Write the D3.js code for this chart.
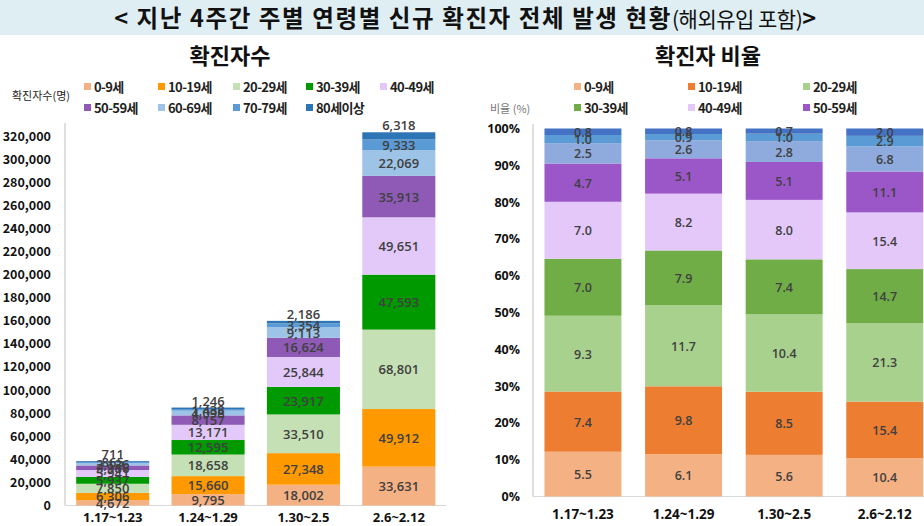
<!DOCTYPE html>
<html><head><meta charset="utf-8">
<script src="https://cdn.jsdelivr.net/npm/d3@7"></script>
<style>
body{margin:0;background:#fff;}
svg{display:block;font-family:"Noto Sans CJK KR","Noto Sans",sans-serif;}
</style></head>
<body>
<svg id="chart" width="924" height="526"></svg>
<script>
// ---- data ----
const weeks = ["1.17~1.23", "1.24~1.29", "1.30~2.5", "2.6~2.12"];
const ageGroups = ["0-9세", "10-19세", "20-29세", "30-39세", "40-49세", "50-59세", "60-69세", "70-79세", "80세이상"];
// 확진자수 (명) per age group, one value per week
const cnt0  = [4672, 9795, 18002, 33631];
const cnt10 = [6306, 15660, 27348, 49912];
const cnt20 = [7850, 18658, 33510, 68801];
const cnt30 = [5937, 12595, 23917, 47593];
const cnt40 = [5941, 13171, 25844, 49651];
const cnt50 = [3986, 8157, 16624, 35913];
const cnt60 = [2126, 4098, 9113, 22069];
const cnt70 = [865, 1438, 3354, 9333];
const cnt80 = [711, 1246, 2186, 6318];
// 비율 (%) per age group
const pct0  = [5.5, 6.1, 5.6, 10.4];
const pct10 = [7.4, 9.8, 8.5, 15.4];
const pct20 = [9.3, 11.7, 10.4, 21.3];
const pct30 = [7.0, 7.9, 7.4, 14.7];
const pct40 = [7.0, 8.2, 8.0, 15.4];
const pct50 = [4.7, 5.1, 5.1, 11.1];
const pct60 = [2.5, 2.6, 2.8, 6.8];
const pct70 = [1.0, 0.9, 1.0, 2.9];
const pct80 = [0.8, 0.8, 0.7, 2.0];
const countTicks = d3.range(0, 320001, 20000);
const pctTicks = d3.range(0, 1.0001, 0.1);

const countSeries = [cnt0, cnt10, cnt20, cnt30, cnt40, cnt50, cnt60, cnt70, cnt80];
const pctSeries = [pct0, pct10, pct20, pct30, pct40, pct50, pct60, pct70, pct80];

const leftColors = ["#F4B183", "#FF9900", "#C5E0B4", "#009900", "#E2C9FA", "#8E5AB5", "#9DC3E6", "#5B9BD5", "#2E75B6"];
const rightColors = ["#F4B183", "#ED7D31", "#A9D18E", "#70AD47", "#E4C8FA", "#9B57C8", "#8FAADC", "#5B9BD5", "#4472C4"];

const svg = d3.select("#chart");
const txt = "#404040";

// ---- title banner ----
svg.append("rect").attr("x", 0).attr("y", 0).attr("width", 924).attr("height", 35).attr("fill", "#DFEEF3");
const title = svg.append("text").attr("x", 466).attr("y", 27).attr("text-anchor", "middle")
  .attr("font-size", 23.5).attr("fill", "#111").attr("letter-spacing", 1.6);
title.append("tspan").attr("font-weight", "bold").text("< 지난 4주간 주별 연령별 신규 확진자 전체 발생 현황");
title.append("tspan").attr("font-weight", "normal").attr("font-size", 21).attr("letter-spacing", -0.5).text("(해외유입 포함)");
title.append("tspan").attr("font-weight", "bold").text(">");

svg.append("text").attr("x", 230).attr("y", 64).attr("text-anchor", "middle")
  .attr("font-size", 22).attr("font-weight", "bold").attr("fill", "#111").text("확진자수");
svg.append("text").attr("x", 708).attr("y", 64).attr("text-anchor", "middle")
  .attr("font-size", 22).attr("font-weight", "bold").attr("fill", "#111").text("확진자 비율");

// ---- tables ----
function buildTable(series) {
  return weeks.map((w, i) => {
    const row = { week: w };
    ageGroups.forEach((g, k) => row[g] = series[k][i]);
    return row;
  });
}
const countTable = buildTable(countSeries);
const pctTable = buildTable(pctSeries);

// ---- LEFT CHART ----
const xL = d3.scaleBand().domain(weeks).range([65, 446.5]).paddingInner(0.234).paddingOuter(0.117);
const yL = d3.scaleLinear().domain([0, 320000]).range([505.5, 136]);
const stackL = d3.stack().keys(ageGroups)(countTable);

const gL = svg.append("g");
gL.append("line").attr("x1", 65).attr("x2", 65).attr("y1", 123).attr("y2", yL(0)).attr("stroke", "#BFBFBF");
gL.append("line").attr("x1", 65).attr("x2", 446).attr("y1", yL(0)).attr("y2", yL(0)).attr("stroke", "#D9D9D9");

const yAxisL = d3.axisLeft(yL).tickValues(countTicks).tickSize(0).tickPadding(0).tickFormat(d3.format(","));
const ya = gL.append("g").attr("transform", "translate(51,0)").call(yAxisL);
ya.select(".domain").remove();
ya.selectAll("text").attr("font-size", 12.5).attr("font-weight", "bold").attr("fill", "#111")
  .attr("font-family", "'Noto Sans CJK KR',sans-serif");

stackL.forEach((layer, k) => {
  const g = gL.append("g").attr("fill", leftColors[k]);
  g.selectAll("rect").data(layer).join("rect")
    .attr("x", d => xL(d.data.week)).attr("width", xL.bandwidth())
    .attr("y", d => yL(d[1])).attr("height", d => yL(d[0]) - yL(d[1]));
});
const lastK = ageGroups.length - 1;
stackL.forEach((layer, k) => {
  gL.append("g").selectAll("text").data(layer).join("text")
    .attr("x", d => xL(d.data.week) + xL.bandwidth() / 2)
    .attr("y", d => k === lastK ? yL(d[1]) - 2 : (yL(d[0]) + yL(d[1])) / 2 + 5)
    .attr("text-anchor", "middle").attr("font-size", 13).attr("fill", txt)
    .attr("font-family", "'Open Sans',sans-serif").attr("font-weight", 600)
    .text(d => d3.format(",")(d.data[ageGroups[k]]));
});
const xAxisL = d3.axisBottom(xL).tickSize(0).tickPadding(0);
const xa = gL.append("g").attr("transform", "translate(0,513)").call(xAxisL);
xa.select(".domain").remove();
xa.selectAll("text").attr("font-size", 13).attr("font-weight", "bold").attr("fill", "#111")
  .attr("font-family", "'Open Sans',sans-serif");

// left legend
svg.append("text").attr("x", 12).attr("y", 100).attr("font-size", 11).attr("fill", "#222").text("확진자수(명)");
ageGroups.forEach((g, k) => {
  const col = k < 5 ? k : k - 5, row = k < 5 ? 0 : 1;
  const lx = [84, 158, 233, 306, 380][col], ly = row === 0 ? 87 : 108;
  svg.append("rect").attr("x", lx).attr("y", ly - 4).attr("width", 7).attr("height", 7).attr("fill", leftColors[k]);
  svg.append("text").attr("x", lx + 10).attr("y", ly + 5).attr("font-size", 13).attr("font-weight", "bold")
    .attr("fill", "#222").attr("letter-spacing", -0.6).text(g);
});

// ---- RIGHT CHART ----
const xR = d3.scaleBand().domain(weeks).range([532.7, 935]).paddingInner(0.235).paddingOuter(0.117);
const yR = d3.scaleLinear().domain([0, 1]).range([496.5, 128.5]);
const stackR = d3.stack().keys(ageGroups).offset(d3.stackOffsetExpand)(pctTable);

const gR = svg.append("g");
gR.append("line").attr("x1", 533).attr("x2", 533).attr("y1", 124).attr("y2", yR(0)).attr("stroke", "#BFBFBF");
gR.append("line").attr("x1", 533).attr("x2", 924).attr("y1", yR(0)).attr("y2", yR(0)).attr("stroke", "#D9D9D9");
const yAxisR = d3.axisLeft(yR).tickValues(pctTicks).tickSize(0).tickPadding(0).tickFormat(d3.format(".0%"));
const yb = gR.append("g").attr("transform", "translate(520,0)").call(yAxisR);
yb.select(".domain").remove();
yb.selectAll("text").attr("font-size", 12.5).attr("font-weight", "bold").attr("fill", "#111")
  .attr("font-family", "'Open Sans',sans-serif");

stackR.forEach((layer, k) => {
  const g = gR.append("g").attr("fill", rightColors[k]);
  g.selectAll("rect").data(layer).join("rect")
    .attr("x", d => xR(d.data.week)).attr("width", xR.bandwidth())
    .attr("y", d => yR(d[1])).attr("height", d => yR(d[0]) - yR(d[1]));
});
stackR.forEach((layer, k) => {
  gR.append("g").selectAll("text").data(layer).join("text")
    .attr("x", d => xR(d.data.week) + xR.bandwidth() / 2)
    .attr("y", d => (yR(d[0]) + yR(d[1])) / 2 + 5)
    .attr("text-anchor", "middle").attr("font-size", 12.5).attr("fill", txt)
    .attr("font-family", "'Open Sans',sans-serif").attr("font-weight", 600)
    .text(d => d3.format(".1f")(d.data[ageGroups[k]]));
});
const xAxisR = d3.axisBottom(xR).tickSize(0).tickPadding(0);
const xb = gR.append("g").attr("transform", "translate(0,509)").call(xAxisR);
xb.select(".domain").remove();
xb.selectAll("text").attr("font-size", 13.5).attr("font-weight", "bold").attr("fill", "#111")
  .attr("font-family", "'Open Sans',sans-serif");

// right legend (only first six groups shown)
svg.append("text").attr("x", 490).attr("y", 113).attr("font-size", 11).attr("fill", "#777").text("비율 (%)");
ageGroups.slice(0, 6).forEach((g, k) => {
  const col = k % 3, row = Math.floor(k / 3);
  const lx = [574, 688, 803][col], ly = row === 0 ? 87 : 108;
  svg.append("rect").attr("x", lx).attr("y", ly - 4).attr("width", 7).attr("height", 7).attr("fill", rightColors[k]);
  svg.append("text").attr("x", lx + 10).attr("y", ly + 5).attr("font-size", 13).attr("font-weight", "bold")
    .attr("fill", "#222").attr("letter-spacing", -0.6).text(g);
});
</script>
</body></html>
